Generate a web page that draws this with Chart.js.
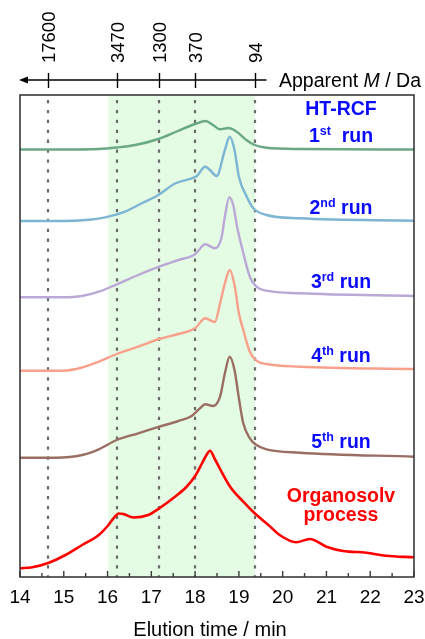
<!DOCTYPE html>
<html>
<head>
<meta charset="utf-8">
<script src="https://cdn.jsdelivr.net/npm/chart.js@4/dist/chart.umd.min.js"></script>
<style>
  html, body { margin: 0; padding: 0; background: #fff; }
  #wrap { width: 425px; height: 639px; }
</style>
</head>
<body>
<div id="wrap"><canvas id="c" width="425" height="639"></canvas></div>
<script>
// ---------- data (elution time in min, detector signal with vertical offset, a.u.) ----------
const run1Time   = [14.0, 15.0, 15.8, 16.21, 16.63, 17.16, 17.58, 18.0, 18.24, 18.41, 18.57, 18.76, 18.95, 19.17, 19.36, 19.63, 20.39, 23.0];
const run1Signal = [427.5, 427.5, 428, 429.5, 432, 438, 445.5, 453, 456, 452, 447.7, 449, 445.3, 437, 432, 429.3, 428, 427.5];

const run2Time   = [14.0, 15.0, 15.5, 15.95, 16.4, 16.78, 17.16, 17.54, 17.92, 18.04, 18.23, 18.34, 18.49, 18.68, 18.79, 18.9, 19.0, 19.18, 19.33, 19.63, 20.39, 23.0];
const run2Signal = [356, 356, 357, 359.7, 365.3, 373.7, 382, 393.5, 398.7, 401, 410.3, 407, 401, 427, 440.3, 427, 400.3, 380.3, 368.7, 362, 358.7, 356.3];

const run3Time   = [14.0, 14.98, 15.42, 15.8, 16.21, 16.7, 17.18, 17.62, 18.0, 18.23, 18.45, 18.6, 18.68, 18.78, 18.87, 18.96, 19.1, 19.25, 19.4, 19.63, 20.39, 23.0];
const run3Signal = [279.7, 279.7, 281, 285.3, 292.7, 302, 310.3, 317, 322.7, 332.7, 328.7, 338.7, 360.3, 379.7, 372, 350, 324, 300.3, 290.3, 286.3, 283.7, 281];

const run4Time   = [14.0, 14.98, 15.42, 15.8, 16.21, 16.7, 17.18, 17.62, 18.0, 18.23, 18.45, 18.57, 18.68, 18.79, 18.9, 19.0, 19.1, 19.25, 19.4, 19.63, 20.39, 23.0];
const run4Signal = [206.3, 206.3, 209.5, 215.3, 223, 230.3, 238, 243, 248.7, 258.7, 255, 273.7, 293.7, 307, 292, 263.7, 247, 225.3, 216.3, 213, 210.3, 208];

const run5Time   = [14.0, 14.81, 15.42, 15.8, 16.21, 16.7, 17.18, 17.62, 17.92, 18.11, 18.23, 18.41, 18.57, 18.68, 18.79, 18.9, 19.0, 19.1, 19.25, 19.4, 19.63, 20.39, 23.0];
const run5Signal = [119.3, 119.3, 122, 127.7, 137, 143.7, 150.3, 156, 161, 168.7, 172.7, 171, 180.3, 203.7, 220.3, 207, 178.7, 153.7, 138.7, 132, 127.7, 124.3, 120.3];

const organosolvTime   = [14.0, 14.28, 14.66, 15.04, 15.42, 15.8, 16.02, 16.15, 16.26, 16.36, 16.59, 16.93, 17.18, 17.54, 17.8, 18.0, 18.15, 18.26, 18.34, 18.45, 18.57, 18.8, 19.1, 19.36, 19.7, 19.93, 20.31, 20.62, 21.0, 21.38, 21.91, 22.36, 23.0];
const organosolvSignal = [8.7, 9.7, 14.3, 22, 32, 42, 52, 59.5, 63.5, 63, 59.5, 62, 68.7, 80.3, 90, 101, 113, 122, 126.3, 118, 108, 90.3, 75.3, 63.7, 51, 42, 34.7, 38, 30.3, 26, 24.3, 21.3, 19.7];

// apparent molar mass marks (top axis) and the shaded window
const massLabels = ['17600', '3470', '1300', '370', '94'];
const massTimes  = [14.64, 16.21, 17.18, 18.0, 19.37];
const shadeWindow = [16.02, 19.37];
const massAxisEnd = 19.63;

const seriesNames  = ['HT-RCF 1st run', '2nd run', '3rd run', '4th run', '5th run', 'Organosolv process'];
const seriesColors = ['#6aa886', '#7db5d3', '#bba8d6', '#f8a08b', '#9a6e63', '#ff0000'];

// ---------- build ----------
const FONT = '"Liberation Sans", Arial, Helvetica, sans-serif';
function pairs(t, v) { return t.map((x, i) => ({ x: x, y: v[i] })); }
const allTimes = [run1Time, run2Time, run3Time, run4Time, run5Time, organosolvTime];
const allSignals = [run1Signal, run2Signal, run3Signal, run4Signal, run5Signal, organosolvSignal];

const datasets = allTimes.map((t, i) => ({
  label: seriesNames[i],
  data: pairs(t, allSignals[i]),
  borderColor: seriesColors[i],
  borderWidth: i === 5 ? 2.6 : 2.4,
  pointRadius: 0,
  fill: false,
  cubicInterpolationMode: 'monotone'
}));

const textLabels = [
  { parts: [['HT-RCF', 0]], y: 115, color: '#0a0aff' },
  { parts: [['1', 0], ['st', 1], ['  run', 0]], y: 142, color: '#0a0aff' },
  { parts: [['2', 0], ['nd', 1], [' run', 0]], y: 214, color: '#0a0aff' },
  { parts: [['3', 0], ['rd', 1], [' run', 0]], y: 288, color: '#0a0aff' },
  { parts: [['4', 0], ['th', 1], [' run', 0]], y: 362, color: '#0a0aff' },
  { parts: [['5', 0], ['th', 1], [' run', 0]], y: 448, color: '#0a0aff' },
  { parts: [['Organosolv', 0]], y: 502, color: '#ff0000' },
  { parts: [['process', 0]], y: 521, color: '#ff0000' }
];
const xTitle = 'Elution time / min';

const overlay = {
  id: 'overlay',
  beforeDatasetsDraw(chart) {
    const { ctx, chartArea: a, scales: { x } } = chart;
    ctx.save();
    const s0 = x.getPixelForValue(shadeWindow[0]);
    const s1 = x.getPixelForValue(shadeWindow[1]);
    ctx.fillStyle = '#e4fbe4';
    ctx.fillRect(s0, a.top, s1 - s0, a.bottom - a.top);
    ctx.strokeStyle = '#6a6a6a';
    ctx.lineWidth = 2.2;
    ctx.setLineDash([3.3, 6.6]);
    ctx.lineDashOffset = -5;
    massTimes.forEach(t => {
      const px = Math.round(x.getPixelForValue(t));
      ctx.beginPath();
      ctx.moveTo(px, a.top);
      ctx.lineTo(px, a.bottom);
      ctx.stroke();
    });
    ctx.restore();
  },
  afterDraw(chart) {
    const { ctx, chartArea: a, scales: { x } } = chart;
    ctx.save();
    // frame
    ctx.strokeStyle = '#3a3a3a';
    ctx.lineWidth = 1.6;
    ctx.strokeRect(a.left, a.top, a.right - a.left, a.bottom - a.top);
    // inward ticks on bottom axis
    ctx.lineWidth = 1.4;
    for (let v = x.min; v <= x.max + 1e-9; v += 0.5) {
      const px = x.getPixelForValue(v);
      const major = Math.abs(v - Math.round(v)) < 1e-6;
      ctx.beginPath();
      ctx.moveTo(px, a.bottom);
      ctx.lineTo(px, a.bottom - (major ? 6 : 4));
      ctx.stroke();
    }
    // axis title
    ctx.fillStyle = '#000';
    ctx.font = '20px ' + FONT;
    ctx.textAlign = 'center';
    ctx.textBaseline = 'alphabetic';
    ctx.fillText(xTitle, 210, 636);
    // top apparent-mass axis
    const yAx = 80;
    const xl = x.getPixelForValue(x.min);
    const xr = x.getPixelForValue(massAxisEnd);
    ctx.strokeStyle = '#000';
    ctx.lineWidth = 1.4;
    ctx.beginPath();
    ctx.moveTo(xl + 4, yAx);
    ctx.lineTo(xr, yAx);
    ctx.stroke();
    ctx.beginPath();
    ctx.moveTo(xl - 1, yAx);
    ctx.lineTo(xl + 8, yAx - 3.5);
    ctx.lineTo(xl + 8, yAx + 3.5);
    ctx.closePath();
    ctx.fill();
    ctx.font = '18.5px ' + FONT;
    massTimes.forEach((t, i) => {
      const px = Math.round(x.getPixelForValue(t)) + 0.5;
      ctx.beginPath();
      ctx.moveTo(px, yAx - 7);
      ctx.lineTo(px, yAx + 8);
      ctx.stroke();
      ctx.save();
      ctx.translate(px, 63);
      ctx.rotate(-Math.PI / 2);
      ctx.textAlign = 'left';
      ctx.textBaseline = 'middle';
      ctx.fillText(massLabels[i], 0, 1);
      ctx.restore();
    });
    ctx.textAlign = 'left';
    ctx.textBaseline = 'alphabetic';
    ctx.font = '19.5px ' + FONT;
    let tx = 279;
    const p1 = 'Apparent ';
    ctx.fillText(p1, tx, 87);
    tx += ctx.measureText(p1).width;
    ctx.font = 'italic 19.5px ' + FONT;
    ctx.fillText('M', tx, 87);
    tx += ctx.measureText('M').width;
    ctx.font = '19.5px ' + FONT;
    ctx.fillText(' / Da', tx, 87);
    // series labels
    const cx = 341;
    textLabels.forEach(lab => {
      const fonts = ['bold 19.5px ' + FONT, 'bold 12.5px ' + FONT];
      let w = 0;
      lab.parts.forEach(p => { ctx.font = fonts[p[1]]; w += ctx.measureText(p[0]).width; });
      let px = cx - w / 2;
      ctx.fillStyle = lab.color;
      lab.parts.forEach(p => {
        ctx.font = fonts[p[1]];
        ctx.fillText(p[0], px, lab.y - (p[1] ? 7.5 : 0));
        px += ctx.measureText(p[0]).width;
      });
    });
    ctx.restore();
  }
};

new Chart(document.getElementById('c'), {
  type: 'line',
  data: { datasets: datasets },
  plugins: [overlay],
  options: {
    responsive: false,
    animation: false,
    events: [],
    layout: { padding: { top: 95, left: 20, right: 11, bottom: 0 } },
    plugins: { legend: { display: false }, tooltip: { enabled: false } },
    scales: {
      x: {
        type: 'linear', min: 14, max: 23,
        ticks: { stepSize: 1, padding: 9, color: '#000', maxRotation: 0, font: { family: FONT, size: 19 } },
        grid: { display: false, drawTicks: false },
        border: { display: false },
        title: { display: false },
        afterFit(scale) {
          scale.height = 62;
          scale.paddingLeft = 0;
          scale.paddingRight = 0;
        }
      },
      y: { display: false, min: 0, max: 482 }
    }
  }
});
</script>
</body>
</html>
